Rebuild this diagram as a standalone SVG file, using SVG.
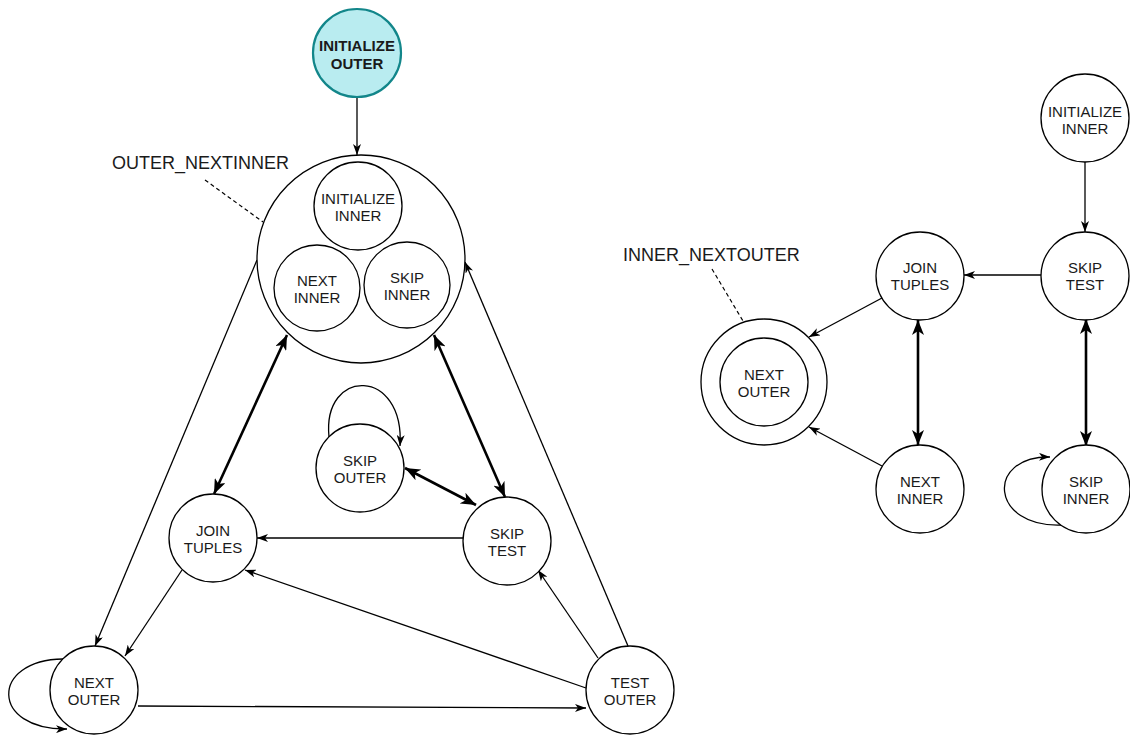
<svg xmlns="http://www.w3.org/2000/svg" width="1130" height="738" viewBox="0 0 1130 738">
  <style>
    .node { fill: #ffffff; stroke: #000000; stroke-width: 1.3; }
    .start { fill: #b9ecf0; stroke: #12868a; stroke-width: 2.2; }
    .lbl { font-family: "Liberation Sans", Arial, sans-serif; font-size: 15px; fill: #1a1a1a; text-anchor: middle; }
    .bold { font-weight: bold; }
    .tag { font-family: "Liberation Sans", Arial, sans-serif; font-size: 18px; fill: #1a1a1a; }
    .edge { fill: none; stroke: #000000; stroke-width: 1.3; marker-end: url(#arr); }
    .both { fill: none; stroke: #000000; stroke-width: 2.6; marker-start: url(#arrB); marker-end: url(#arrB); }
    .dash { fill: none; stroke: #000000; stroke-width: 1.2; stroke-dasharray: 4 3; }
  </style>
  <defs>
    <marker id="arr" viewBox="0 0 11 8" refX="11" refY="4" markerWidth="11" markerHeight="8" orient="auto" markerUnits="userSpaceOnUse">
      <path d="M0,0 L11,4 L0,8 L3,4 z" fill="#000"/>
    </marker>
    <marker id="arrB" viewBox="0 0 15 12" refX="15" refY="6" markerWidth="15" markerHeight="12" orient="auto-start-reverse" markerUnits="userSpaceOnUse">
      <path d="M0,0 L15,6 L0,12 L4,6 z" fill="#000"/>
    </marker>
  </defs>

  <!-- connectors -->
  <g id="connectors">
    <!-- outer loop -->
    <line class="edge" x1="357" y1="97" x2="357" y2="155"/>
    <line class="both" x1="287" y1="335" x2="214" y2="494"/>
    <line class="both" x1="434" y1="335" x2="505" y2="497"/>
    <line class="both" x1="405" y1="468" x2="476" y2="505"/>
    <path class="edge" d="M329,437 C322,367 405,367 400,446"/>
    <line class="edge" x1="463" y1="538" x2="257" y2="538"/>
    <line class="edge" x1="586" y1="688" x2="245" y2="570"/>
    <line class="edge" x1="598" y1="658" x2="538" y2="570"/>
    <line class="edge" x1="628" y1="646" x2="465" y2="262"/>
    <line class="edge" x1="257" y1="260" x2="95" y2="646"/>
    <line class="edge" x1="182" y1="570" x2="125" y2="656"/>
    <line class="edge" x1="138" y1="706" x2="586" y2="708"/>
    <path class="edge" d="M63,659 C-10,660 -10,730 67,729"/>
    <!-- inner loop -->
    <line class="edge" x1="1085" y1="162" x2="1085" y2="232"/>
    <line class="edge" x1="1041" y1="275" x2="964" y2="275"/>
    <line class="edge" x1="882" y1="298" x2="809" y2="337"/>
    <line class="edge" x1="882" y1="466" x2="809" y2="427"/>
    <line class="both" x1="918" y1="320" x2="918" y2="445"/>
    <line class="both" x1="1086" y1="319" x2="1086" y2="446"/>
    <path class="edge" d="M1062,525 C990,528 985,456 1050,457"/>
    <!-- callout leaders -->
    <line class="dash" x1="205" y1="180" x2="263" y2="222"/>
    <line class="dash" x1="712" y1="269" x2="743" y2="321"/>
  </g>

  <!-- outer loop nodes -->
  <g id="initialize-outer">
    <circle class="start" cx="357" cy="53" r="44"/>
    <text class="lbl bold"><tspan x="357" y="51">INITIALIZE</tspan><tspan x="357" y="69">OUTER</tspan></text>
  </g>
  <g id="outer-nextinner">
    <circle class="node" cx="361" cy="259" r="104"/>
    <text class="tag" x="112" y="169">OUTER_NEXTINNER</text>
  </g>
  <g id="initialize-inner-nested">
    <circle class="node" cx="358" cy="206" r="44"/>
    <text class="lbl"><tspan x="358" y="204">INITIALIZE</tspan><tspan x="358" y="221">INNER</tspan></text>
  </g>
  <g id="next-inner-nested">
    <circle class="node" cx="317" cy="288" r="43"/>
    <text class="lbl"><tspan x="317" y="286">NEXT</tspan><tspan x="317" y="303">INNER</tspan></text>
  </g>
  <g id="skip-inner-nested">
    <circle class="node" cx="407" cy="285" r="43"/>
    <text class="lbl"><tspan x="407" y="283">SKIP</tspan><tspan x="407" y="300">INNER</tspan></text>
  </g>
  <g id="skip-outer">
    <circle class="node" cx="360" cy="468" r="44"/>
    <text class="lbl"><tspan x="360" y="466">SKIP</tspan><tspan x="360" y="483">OUTER</tspan></text>
  </g>
  <g id="skip-test-outer">
    <circle class="node" cx="507" cy="541" r="44"/>
    <text class="lbl"><tspan x="507" y="539">SKIP</tspan><tspan x="507" y="556">TEST</tspan></text>
  </g>
  <g id="join-tuples-outer">
    <circle class="node" cx="213" cy="538" r="44"/>
    <text class="lbl"><tspan x="213" y="536">JOIN</tspan><tspan x="213" y="553">TUPLES</tspan></text>
  </g>
  <g id="next-outer">
    <circle class="node" cx="94" cy="690" r="44"/>
    <text class="lbl"><tspan x="94" y="688">NEXT</tspan><tspan x="94" y="705">OUTER</tspan></text>
  </g>
  <g id="test-outer">
    <circle class="node" cx="630" cy="690" r="44"/>
    <text class="lbl"><tspan x="630" y="688">TEST</tspan><tspan x="630" y="705">OUTER</tspan></text>
  </g>

  <!-- inner loop nodes -->
  <g id="initialize-inner">
    <circle class="node" cx="1085" cy="118" r="44"/>
    <text class="lbl"><tspan x="1085" y="117">INITIALIZE</tspan><tspan x="1085" y="134">INNER</tspan></text>
  </g>
  <g id="skip-test-inner">
    <circle class="node" cx="1085" cy="276" r="44"/>
    <text class="lbl"><tspan x="1085" y="273">SKIP</tspan><tspan x="1085" y="290">TEST</tspan></text>
  </g>
  <g id="join-tuples-inner">
    <circle class="node" cx="920" cy="276" r="44"/>
    <text class="lbl"><tspan x="920" y="273">JOIN</tspan><tspan x="920" y="290">TUPLES</tspan></text>
  </g>
  <g id="inner-nextouter">
    <circle class="node" cx="764" cy="382" r="63"/>
    <circle class="node" cx="764" cy="382" r="44"/>
    <text class="lbl"><tspan x="764" y="380">NEXT</tspan><tspan x="764" y="397">OUTER</tspan></text>
    <text class="tag" x="623" y="261">INNER_NEXTOUTER</text>
  </g>
  <g id="next-inner">
    <circle class="node" cx="920" cy="489" r="44"/>
    <text class="lbl"><tspan x="920" y="487">NEXT</tspan><tspan x="920" y="504">INNER</tspan></text>
  </g>
  <g id="skip-inner">
    <circle class="node" cx="1086" cy="489" r="44"/>
    <text class="lbl"><tspan x="1086" y="487">SKIP</tspan><tspan x="1086" y="504">INNER</tspan></text>
  </g>
</svg>
